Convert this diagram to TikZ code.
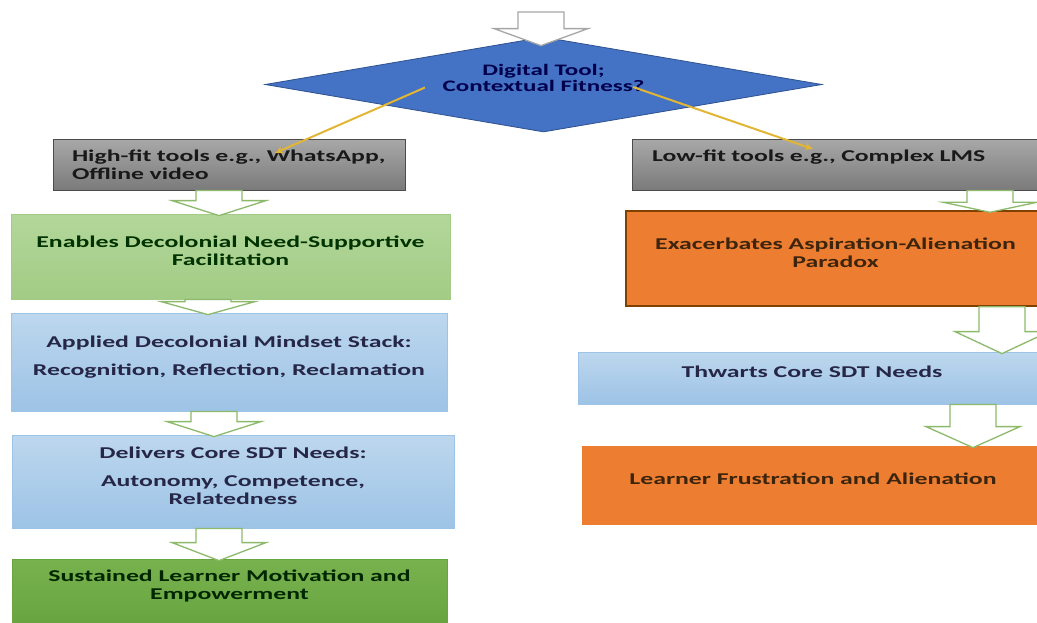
\documentclass[tikz,border=0pt]{standalone}
\usepackage{fontspec}
\setmainfont{Carlito}
\newfontfamily\boxfont[FakeStretch=1.56]{Carlito}
\usetikzlibrary{calc,arrows.meta,shapes.geometric}

\definecolor{diablue}{HTML}{4472C4}
\definecolor{diaedge}{HTML}{2F528F}
\definecolor{linkyellow}{HTML}{E2B634}
\definecolor{arrowgreen}{HTML}{8DB96B}
\definecolor{boxorange}{HTML}{ED7D31}
\definecolor{bluetop}{HTML}{BDD7EE}
\definecolor{bluebot}{HTML}{9DC3E6}
\definecolor{greentop}{HTML}{B3D79A}
\definecolor{greenbot}{HTML}{A2CC85}
\definecolor{dgreentop}{HTML}{78B24F}
\definecolor{dgreenbot}{HTML}{68A53F}

\tikzset{
    fitbox/.style={
    rectangle,inner sep=0pt,line width=0.8pt,align=center,text depth=12pt,
    font=\boxfont\bfseries\fontsize{16.5}{18}\selectfont
    },
    toolbox/.style={
    fitbox,draw=black!70,top color=black!34,bottom color=black!52,
    text=black!90,align=left,text depth={}
    },
    lightgreen/.style={
    fitbox,draw=greenbot,top color=greentop,bottom color=greenbot,
    text=green!20!black
    },
    darkgreen/.style={
    fitbox,draw=dgreenbot,top color=dgreentop,bottom color=dgreenbot,
    text=green!15!black
    },
    bluebox/.style={
    fitbox,draw=bluebot,top color=bluetop,bottom color=bluebot,
    text=blue!15!black!85
    },
    orangebox/.style={
    fitbox,fill=boxorange,draw=boxorange,text=orange!20!black!95
    },
    decision/.style={
    diamond,aspect=5.86,inner sep=0pt,minimum width=557,minimum height=95,
    fill=diablue,draw=diaedge,line width=0.8pt,text=blue!30!black,text depth=13pt,
    align=center,font=\boxfont\bfseries\fontsize{16}{16}\selectfont
    },
    hollowarrow/.style={
    draw=arrowgreen,fill=white,line width=1.3pt,line join=miter
    },
    fitlink/.style={
    draw=linkyellow,line width=2pt,-{Stealth[length=8pt,width=7pt]}
    },
}

% hollow block arrow: [style]{from}{to}{x}{head length}
\newcommand{\blockarrow}[5][]{%
  \draw[hollowarrow,#1] let \p1=(#2), \p2=(#3) in
    (#4pt-23pt,\y1) -- (#4pt-23pt,\y2-2pt+#5pt) -- (#4pt-47pt,\y2-2pt+#5pt)
    -- (#4pt,\y2-2pt) -- (#4pt+47pt,\y2-2pt+#5pt) -- (#4pt+23pt,\y2-2pt+#5pt)
    -- (#4pt+23pt,\y1) -- cycle;}

\begin{document}
\begin{tikzpicture}[x=1pt,y=-1pt]
  \useasboundingbox (0,0) rectangle (1037,622);
  \clip (0,0) rectangle (1037,622);
  \fill[white] (0,0) rectangle (1037,622);

  % decision
  \node[decision] (dia) at (543.5,84.5) {Digital Tool;\\Contextual Fitness?};
  \coordinate (entry) at (541,12);

  % high-fit branch
  \node[toolbox,minimum width=352,minimum height=51,text width=314] (high) at (229,164.5)
    {High-fit tools e.g., WhatsApp,\\Offline video};
  \node[lightgreen,minimum width=439,minimum height=85] (enable) at (230.5,256.5)
    {Enables Decolonial Need-Supportive\\Facilitation};
  \node[bluebox,minimum width=436,minimum height=98] (mindset) at (229,362)
    {Applied Decolonial Mindset Stack:\\[10pt]Recognition, Reflection, Reclamation};
  \node[bluebox,minimum width=442,minimum height=93] (needs) at (233,481.5)
    {Delivers Core SDT Needs:\\[10pt]Autonomy, Competence,\\Relatedness};
  \node[darkgreen,minimum width=435,minimum height=63] (motiv) at (229.5,590.5)
    {Sustained Learner Motivation and\\Empowerment};

  % low-fit branch
  \node[toolbox,minimum width=413,minimum height=51,text width=373] (low) at (838.5,164.5)
    {Low-fit tools e.g., Complex LMS\\\mbox{}};
  \node[orangebox,draw=orange!50!black,line width=1.5pt,minimum width=419,minimum height=95] (paradox) at (835.5,258.5)
    {Exacerbates Aspiration-Alienation\\Paradox};
  \node[bluebox,minimum width=468,minimum height=52] (thwart) at (812,378)
    {Thwarts Core SDT Needs};
  \node[orangebox,minimum width=462,minimum height=78] (frustr) at (813,485)
    {Learner Frustration and Alienation};

  % block arrows
  \blockarrow[draw=black!35]{entry}{[yshift=-7pt]dia.north}{541}{17}
  \blockarrow{high.south}{enable.north}{219}{15}
  \blockarrow{enable.south}{mindset.north}{208}{13}
  \blockarrow{mindset.south}{needs.north}{214}{15}
  \blockarrow{needs.south}{motiv.north}{219}{18}
  \blockarrow{low.south}{paradox.north}{990}{10}
  \blockarrow{paradox.south}{thwart.north}{1002}{22}
  \blockarrow{thwart.south}{frustr.north}{973}{21}

  % fitness links
  \draw[fitlink] ([shift={(-118.5pt,-3pt)}]dia.center) -- ([shift={(46pt,11.5pt)}]high.center);
  \draw[fitlink] ([shift={(89.5pt,-2.5pt)}]dia.center) -- ([shift={(-25.5pt,15.5pt)}]low.center);
\end{tikzpicture}
\end{document}
